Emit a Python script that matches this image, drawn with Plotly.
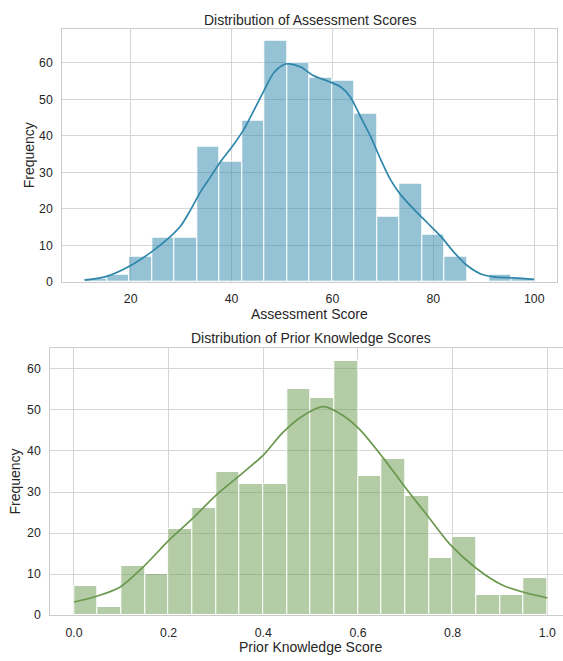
import numpy as np
import plotly.graph_objects as go

# ---------------- data ----------------
assess_counts = [1, 2, 7, 12, 12, 37, 33, 44, 66, 60, 56, 55, 46, 18, 27, 13, 7, 0, 2, 1]
assess_min, assess_max = 10.9, 100.0
assess_kde_x = [10.9, 15.4, 20, 24, 27.3, 29.9, 31.9, 33.9, 35.9, 37.8, 40.2, 42.5, 44.4,
                46.4, 48.4, 50.4, 51.4, 53.7, 56.3, 59.0, 61.6, 63.6, 65.6, 67.6, 69.6,
                71.5, 73.5, 76.2, 78.8, 81.4, 84.1, 86.7, 89.4, 92, 96, 100]
assess_kde_y = [0.5, 1.6, 4.5, 8.1, 11.7, 15.3, 19.8, 24.8, 28.9, 32.9, 37.2, 41.9, 46.9,
                52.3, 57.3, 59.5, 59.7, 58.8, 56.4, 55.0, 53.4, 50.5, 45.1, 39.7, 33.4,
                28.0, 23.9, 19.8, 16.2, 12.6, 8.1, 4.5, 2.2, 1.4, 1.1, 0.7]
assess_ticks = [20, 40, 60, 80, 100]

prior_counts = [7, 2, 12, 10, 21, 26, 35, 32, 32, 55, 53, 62, 34, 38, 29, 14, 19, 5, 5, 9]
prior_min, prior_max = 0.0, 1.0
prior_kde_x = [0.0, 0.048, 0.097, 0.146, 0.203, 0.252, 0.301, 0.351, 0.4, 0.442, 0.484,
               0.527, 0.569, 0.604, 0.654, 0.696, 0.745, 0.794, 0.851, 0.907, 0.956, 1.0]
prior_kde_y = [3.2, 4.6, 6.8, 11.7, 18.5, 23.7, 29.3, 34.1, 39.0, 44.6, 48.6,
               50.8, 48.6, 45.2, 38.2, 31.7, 24.5, 17.3, 11.3, 7.2, 5.4, 4.2]
prior_ticks = [0.0, 0.2, 0.4, 0.6, 0.8, 1.0]
freq_ticks_top = [0, 10, 20, 30, 40, 50, 60]
freq_ticks_bot = [0, 10, 20, 30, 40, 50, 60]

# ---------------- figure ----------------
W, H = 563, 661
FONT = "Arial, Liberation Sans, sans-serif"
TXT = "#262626"
GRID = "#d5d5d5"

def edges(lo, hi, n):
    e = np.linspace(lo, hi, n + 1)
    return (e[:-1] + e[1:]) / 2, (hi - lo) / n

fig = go.Figure()

ac, aw = edges(assess_min, assess_max, len(assess_counts))
fig.add_trace(go.Bar(x=ac, y=assess_counts, width=aw, xaxis="x", yaxis="y",
                     marker=dict(color="rgba(46,134,171,0.5)", line=dict(color="white", width=1)),
                     showlegend=False))
fig.add_trace(go.Scatter(x=assess_kde_x, y=assess_kde_y, mode="lines", xaxis="x", yaxis="y",
                         line=dict(color="#2E86AB", width=1.7, shape="spline", smoothing=0.8),
                         showlegend=False))

pc, pw = edges(prior_min, prior_max, len(prior_counts))
fig.add_trace(go.Bar(x=pc, y=prior_counts, width=pw, xaxis="x2", yaxis="y2",
                     marker=dict(color="rgba(106,153,78,0.5)", line=dict(color="white", width=1)),
                     showlegend=False))
fig.add_trace(go.Scatter(x=prior_kde_x, y=prior_kde_y, mode="lines", xaxis="x2", yaxis="y2",
                         line=dict(color="#6A994E", width=1.7, shape="spline", smoothing=0.8),
                         showlegend=False))

def px_x(p):
    return p / W

def px_y(p):
    return 1 - p / H

# pixel layout
top_l, top_r, top_t, top_b = 62.3, 556.7, 29.0, 285.0
bot_l, bot_r, bot_t, bot_b = 50.3, 563.0, 351.7, 621.7

axis_common = dict(showgrid=True, gridcolor=GRID, gridwidth=1, zeroline=False,
                   showline=True, linecolor="#cccccc", linewidth=1.2, ticks="",
                   ticklabeloverflow="allow",
                   tickfont=dict(family=FONT, size=12.3, color=TXT))

a_span = assess_max - assess_min
fig.update_layout(
    width=W, height=H, margin=dict(l=0, r=0, t=0, b=0),
    paper_bgcolor="white", plot_bgcolor="white", bargap=0,
    xaxis=dict(domain=[px_x(top_l), px_x(top_r)], anchor="y",
               range=[assess_min - 0.05 * a_span, assess_max + 0.05 * a_span],
               tickvals=assess_ticks, mirror=True, ticklabelstandoff=5, **axis_common),
    yaxis=dict(domain=[px_y(top_b), px_y(top_t)], anchor="x",
               range=[0, max(assess_counts) * 1.05], tickvals=freq_ticks_top,
               mirror=True, ticklabelstandoff=6, **axis_common),
    xaxis2=dict(domain=[px_x(bot_l), 1.0], anchor="y2",
                range=[-0.05, (bot_r - 74.0) / 473.3],
                tickvals=prior_ticks, ticktext=[f"{v:.1f}" for v in prior_ticks],
                mirror=True, ticklabelstandoff=6, **axis_common),
    yaxis2=dict(domain=[px_y(bot_b), px_y(bot_t)], anchor="x2",
                range=[0, max(prior_counts) * 1.05], tickvals=freq_ticks_bot,
                mirror=False, ticklabelstandoff=6, **axis_common),
)

ann_font = dict(family=FONT, size=14, color=TXT)
anns = [
    dict(text="Distribution of Assessment Scores", x=px_x((top_l + top_r) / 2), y=px_y(20),
         xanchor="center", yanchor="middle"),
    dict(text="Assessment Score", x=px_x((top_l + top_r) / 2), y=px_y(317.5),
         xanchor="center", yanchor="middle"),
    dict(text="Frequency", x=px_x(29), y=px_y((top_t + top_b) / 2), textangle=-90,
         xanchor="center", yanchor="middle"),
    dict(text="Distribution of Prior Knowledge Scores", x=px_x(310.7), y=px_y(341.7),
         xanchor="center", yanchor="middle"),
    dict(text="Prior Knowledge Score", x=px_x(310.7), y=px_y(653.5),
         xanchor="center", yanchor="middle"),
    dict(text="Frequency", x=px_x(15), y=px_y((bot_t + bot_b) / 2), textangle=-90,
         xanchor="center", yanchor="middle"),
]
fig.update_layout(annotations=[dict(a, xref="paper", yref="paper", showarrow=False, font=ann_font)
                               for a in anns])

fig.write_html("out.html", config={"displayModeBar": False},
               post_script="document.body.style.margin='0';document.body.style.overflow='hidden';")
